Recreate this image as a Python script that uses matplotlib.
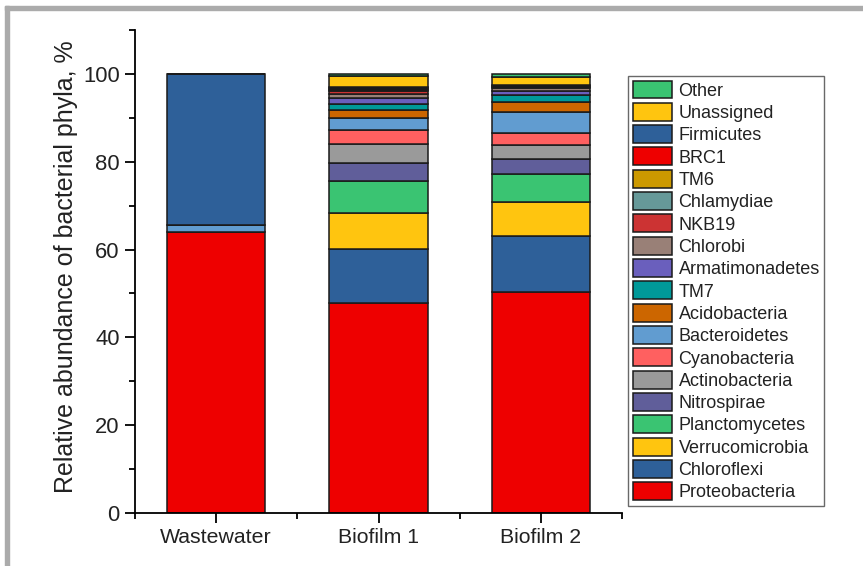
import matplotlib
matplotlib.use("Agg")
import matplotlib.pyplot as plt
from matplotlib.patches import Rectangle
from matplotlib.ticker import FixedLocator
import numpy as np

plt.rcParams['font.family'] = ['Liberation Sans', 'DejaVu Sans']

samples = ["Wastewater", "Biofilm 1", "Biofilm 2"]

# phyla listed from the bottom of each stack upward
phyla = ["Proteobacteria", "Chloroflexi", "Verrucomicrobia", "Planctomycetes",
         "Nitrospirae", "Actinobacteria", "Cyanobacteria", "Bacteroidetes",
         "Acidobacteria", "TM7", "Armatimonadetes", "Chlorobi", "NKB19",
         "Chlamydiae", "TM6", "BRC1", "Firmicutes", "Unassigned", "Other"]

colors = ["#EE0000", "#2E6099", "#FFC50F", "#3AC472",
          "#605E9A", "#9A9A9A", "#FF6060", "#619CD0",
          "#CC6600", "#009999", "#6A5FBD", "#998077", "#CC3333",
          "#669999", "#CC9900", "#EE0000", "#2E6099", "#FFC50F", "#3AC472"]

# relative abundance, % (Wastewater, Biofilm 1, Biofilm 2)
proteobacteria  = [64.0, 47.8, 50.3]
chloroflexi     = [0.0, 12.3, 12.8]
verrucomicrobia = [0.0, 8.2, 7.7]
planctomycetes  = [0.0, 7.2, 6.4]
nitrospirae     = [0.0, 4.2, 3.4]
actinobacteria  = [0.0, 4.3, 3.1]
cyanobacteria   = [0.0, 3.3, 2.9]
bacteroidetes   = [1.5, 2.6, 4.7]
acidobacteria   = [0.0, 1.8, 2.3]
tm7             = [0.0, 1.5, 1.7]
armatimonadetes = [0.0, 1.2, 0.9]
chlorobi        = [0.0, 1.1, 0.6]
nkb19           = [0.0, 0.5, 0.15]
chlamydiae      = [0.0, 0.3, 0.15]
tm6             = [0.0, 0.2, 0.15]
brc1            = [0.0, 0.3, 0.15]
firmicutes      = [34.5, 0.3, 0.15]
unassigned      = [0.0, 2.4, 1.8]
other           = [0.0, 0.5, 0.7]

values = [proteobacteria, chloroflexi, verrucomicrobia, planctomycetes,
          nitrospirae, actinobacteria, cyanobacteria, bacteroidetes,
          acidobacteria, tm7, armatimonadetes, chlorobi, nkb19,
          chlamydiae, tm6, brc1, firmicutes, unassigned, other]

fig = plt.figure(figsize=(8.63, 5.66), dpi=100)
ax = fig.add_axes([135 / 863, 1 - 513 / 566, (622 - 135) / 863, (513 - 30) / 566])

x = np.arange(len(samples))
bottom = np.zeros(len(samples))
handles = []
for name, col, vals in zip(phyla, colors, values):
    vals = np.asarray(vals, dtype=float)
    bars = ax.bar(x, vals, width=0.605, bottom=bottom, color=col,
                  edgecolor="#1a1a1a", linewidth=1.1, label=name)
    handles.append(bars)
    bottom += vals

ax.set_xlim(-0.5, 2.5)
ax.set_ylim(0, 110)
ax.set_xticks(x)
ax.set_xticklabels(samples, fontsize=15.3, color="#222222")
ax.xaxis.set_minor_locator(FixedLocator([-0.5, 0.5, 1.5, 2.5]))
ax.yaxis.set_major_locator(FixedLocator([0, 20, 40, 60, 80, 100]))
ax.yaxis.set_minor_locator(FixedLocator([10, 30, 50, 70, 90, 110]))
ax.tick_params(axis="both", which="major", direction="out", length=7, width=1.3,
               labelsize=15.8, labelcolor="#222222", pad=4)
ax.tick_params(axis="x", which="major", labelsize=15.3)
ax.tick_params(axis="both", which="minor", direction="out", length=4, width=1.3)
ax.set_ylabel("Relative abundance of bacterial phyla, %", fontsize=18,
              color="#222222")
ax.yaxis.set_label_coords(-0.117, 0.51)

for side in ("top", "right"):
    ax.spines[side].set_visible(False)
for side in ("left", "bottom"):
    ax.spines[side].set_linewidth(1.3)

leg = ax.legend(handles[::-1], phyla[::-1], loc="upper left",
                bbox_to_anchor=(628 / 863, 1 - 76 / 566),
                bbox_transform=fig.transFigure, fontsize=13,
                frameon=True, fancybox=False, edgecolor="#444444",
                handlelength=2.2, handleheight=1.15, handletextpad=0.35,
                labelspacing=0.18, borderpad=0.25, borderaxespad=0)
leg.get_frame().set_linewidth(1.0)
for t in leg.get_texts():
    t.set_color("#222222")

# light grey frame along the top and left edges of the figure
fig.patches.append(Rectangle((5 / 863, 1 - 10 / 566), 1 - 5 / 863, 4 / 566,
                             transform=fig.transFigure, color="#ABABAB", zorder=0))
fig.patches.append(Rectangle((5 / 863, 0), 4 / 863, 1 - 6 / 566,
                             transform=fig.transFigure, color="#ABABAB", zorder=0))

fig.savefig("out.png", dpi=100)
